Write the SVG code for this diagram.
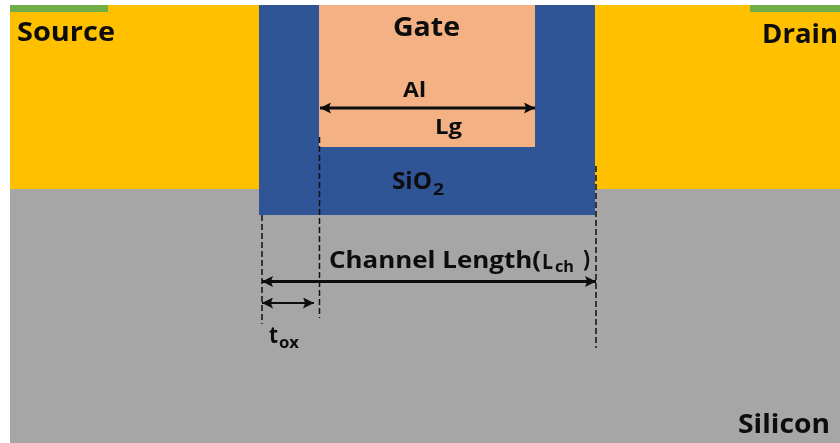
<svg xmlns="http://www.w3.org/2000/svg" width="840" height="443" viewBox="0 0 840 443">
<defs>
<marker id="ah" viewBox="0 0 10 10" refX="10" refY="5" markerWidth="11" markerHeight="11" markerUnits="userSpaceOnUse" orient="auto-start-reverse"><path d="M0 0L10 5L0 10L2 5Z" fill="#0d0d0d"/></marker>
<filter id="soft" x="-5%" y="-20%" width="110%" height="140%"><feGaussianBlur stdDeviation="0.45"/></filter>
</defs>
<style>
text{font-family:"Open Sans","Noto Sans","Liberation Sans",sans-serif;font-weight:700;fill:#0d0d0d;filter:url(#soft)}
.big{font-size:27px}
.mid{font-size:23px}
.al{font-size:21px}
.sub{font-size:16px}
.dim{stroke:#0d0d0d;fill:none;marker-start:url(#ah);marker-end:url(#ah)}
.dash{stroke:#111;stroke-width:1.5;stroke-dasharray:6 3;fill:none}
</style>
<rect width="840" height="443" fill="#fff"/>
<g id="silicon"><rect x="10" y="189" width="830" height="254" fill="#a6a6a6"/><text class="big" x="738" y="433" textLength="92" lengthAdjust="spacingAndGlyphs">Silicon</text></g>
<g id="source"><rect x="10" y="5" width="249" height="184" fill="#ffc000"/><rect x="10" y="5" width="98" height="7" fill="#70ad47"/><text class="big" x="17" y="41" textLength="98" lengthAdjust="spacingAndGlyphs">Source</text></g>
<g id="drain"><rect x="595" y="5" width="245" height="184" fill="#ffc000"/><rect x="750" y="5" width="90" height="7" fill="#70ad47"/><text class="big" x="762" y="43" textLength="76" lengthAdjust="spacingAndGlyphs">Drain</text></g>
<g id="oxide"><rect x="259" y="5" width="336" height="210" fill="#2f5597"/><text class="mid" x="392" y="189" textLength="40" lengthAdjust="spacingAndGlyphs">SiO</text><text class="sub" x="433" y="195" textLength="11" lengthAdjust="spacingAndGlyphs">2</text></g>
<g id="gate"><rect x="319" y="5" width="216" height="142" fill="#f4b183"/><text class="big" x="393" y="36" textLength="67" lengthAdjust="spacingAndGlyphs">Gate</text><text class="al" x="403" y="97" textLength="23" lengthAdjust="spacingAndGlyphs">Al</text><text class="al" x="435" y="134" textLength="27" lengthAdjust="spacingAndGlyphs">Lg</text></g>
<g id="connectors">
<path class="dim" stroke-width="3" d="M320 108H535"/>
<path class="dim" stroke-width="3" d="M262 281.500H596"/>
<path class="dim" stroke-width="2" d="M262 303H314"/>
<path class="dash" d="M262 215V324"/>
<path class="dash" d="M319.500 137V318"/>
<path class="dash" d="M596 166V348"/>
</g>
<g id="labels"><text class="mid" x="329" y="268" textLength="212" lengthAdjust="spacingAndGlyphs">Channel Length(</text><text class="al" x="542" y="269" textLength="11" lengthAdjust="spacingAndGlyphs">L</text><text class="sub" x="555" y="272" textLength="19" lengthAdjust="spacingAndGlyphs">ch</text><text class="mid" x="583" y="267" textLength="7" lengthAdjust="spacingAndGlyphs">)</text><text class="mid" x="269" y="343" textLength="9" lengthAdjust="spacingAndGlyphs">t</text><text class="sub" x="279" y="348" textLength="20" lengthAdjust="spacingAndGlyphs">ox</text></g>
</svg>
